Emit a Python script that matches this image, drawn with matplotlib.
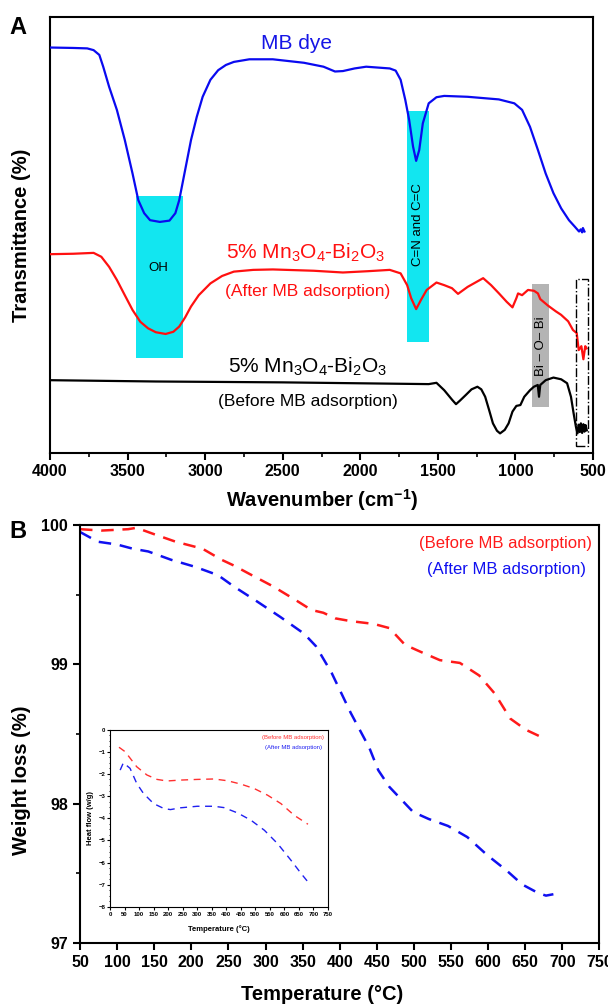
import matplotlib
matplotlib.use("Agg")
import matplotlib.pyplot as plt
from matplotlib.patches import Rectangle

plt.rcParams['font.family'] = ['Liberation Sans', 'DejaVu Sans']
plt.rcParams['mathtext.fontset'] = 'custom'
plt.rcParams['mathtext.rm'] = 'Liberation Sans'
plt.rcParams['mathtext.it'] = 'Liberation Sans:italic'
plt.rcParams['mathtext.bf'] = 'Liberation Sans:bold'
plt.rcParams['mathtext.default'] = 'regular'

# ---- Panel A: FTIR spectra (transmittance, arbitrary offset units) ----
mb_wn = [4000, 3850, 3760, 3719, 3682, 3657, 3619, 3569, 3518, 3468, 3431, 3393, 3355,
         3292, 3230, 3192, 3167, 3129, 3091, 3054, 3016, 2966, 2916, 2866, 2815,
         2715, 2564, 2363, 2237, 2163, 2112, 2037, 1962, 1810, 1772, 1740, 1710,
         1685, 1660, 1640, 1620, 1597, 1559, 1509, 1459, 1308, 1107, 1007, 957,
         906, 855, 805, 755, 705, 655, 617, 590, 579, 570, 565, 555]
mb_t = [93.0, 92.9, 92.8, 92.4, 91.3, 88.6, 84.0, 78.7, 71.8, 64.1, 58.0, 55.0, 53.4,
        53.0, 53.3, 55.0, 58.0, 64.9, 71.8, 77.1, 81.7, 85.6, 87.8, 89.0, 89.7,
        90.3, 90.3, 89.5, 88.6, 87.5, 87.6, 88.2, 88.6, 88.2, 87.7, 85.6, 81.0,
        76.4, 70.3, 67.0, 69.5, 75.6, 80.2, 81.6, 81.9, 81.7, 81.1, 80.2, 78.7,
        74.8, 69.5, 64.1, 59.6, 56.1, 53.4, 51.9, 50.8, 51.3, 50.6, 51.6, 50.8]

after_wn = [4000, 3850, 3719, 3669, 3619, 3569, 3518, 3468, 3418, 3368, 3318, 3255,
            3205, 3167, 3129, 3091, 3041, 2966, 2891, 2815, 2690, 2564, 2300, 2112,
            1950, 1810, 1740, 1698, 1672, 1640, 1609, 1572, 1509, 1459, 1409, 1370,
            1308, 1208, 1157, 1106, 1057, 1019, 994, 983, 957, 919, 880, 855, 840,
            790, 740, 706, 660, 629, 605, 592, 575, 562, 550, 542]
after_t = [45.6, 45.7, 45.9, 45.0, 42.7, 39.7, 36.2, 32.8, 30.1, 28.6, 27.7, 27.3,
           27.8, 29.0, 31.1, 33.6, 36.2, 38.9, 40.6, 41.6, 42.0, 42.1, 41.8, 41.4,
           41.7, 42.0, 41.2, 38.5, 35.5, 33.0, 35.1, 37.4, 39.1, 38.5, 37.8, 36.5,
           38.1, 40.1, 38.5, 36.6, 34.7, 33.4, 35.5, 36.6, 36.2, 37.4, 37.2, 36.6,
           35.3, 33.8, 32.5, 31.7, 30.2, 28.2, 27.5, 23.6, 24.5, 21.5, 24.5, 24.0]

before_wn = [4000, 3317, 2500, 1559, 1509, 1459, 1408, 1383, 1358, 1320, 1283, 1245,
             1220, 1195, 1170, 1145, 1119, 1099, 1069, 1044, 1019, 994, 968, 943,
             906, 881, 856, 848, 840, 805, 755, 705, 667, 642, 625, 610, 600, 592,
             585, 578, 570, 562, 555, 548, 540]
before_t = [16.7, 16.4, 16.2, 15.8, 16.1, 14.4, 12.2, 11.2, 12.0, 13.3, 14.6, 15.2,
            14.6, 12.9, 9.9, 6.8, 5.1, 4.5, 5.3, 6.8, 9.5, 10.8, 11.0, 12.9,
            14.4, 15.2, 15.6, 12.9, 15.6, 16.7, 17.3, 16.9, 16.0, 12.9, 9.1, 6.0,
            4.5, 6.5, 4.8, 6.8, 4.6, 6.6, 4.9, 6.4, 5.2]

# ---- Panel B: TGA (weight %) ----
tga_before_T = [50, 79, 115, 126, 152, 179, 215, 241, 257, 278, 310, 341, 362, 378,
                394, 415, 446, 467, 488, 509, 535, 562, 588, 609, 630, 651, 675]
tga_before_w = [99.97, 99.96, 99.97, 99.98, 99.93, 99.88, 99.83, 99.75, 99.71, 99.65,
                99.56, 99.46, 99.39, 99.37, 99.33, 99.31, 99.29, 99.26, 99.14, 99.09,
                99.03, 99.01, 98.92, 98.79, 98.61, 98.53, 98.47]
tga_after_T = [50, 74, 100, 121, 142, 173, 205, 236, 257, 289, 320, 352, 368, 389,
               415, 440, 452, 467, 483, 499, 520, 546, 572, 599, 625, 646, 667, 678, 688]
tga_after_w = [99.95, 99.88, 99.86, 99.83, 99.81, 99.75, 99.70, 99.64, 99.56, 99.45,
               99.34, 99.22, 99.13, 98.94, 98.65, 98.40, 98.24, 98.12, 98.03, 97.94,
               97.89, 97.84, 97.76, 97.63, 97.52, 97.42, 97.36, 97.34, 97.35]

# ---- Inset: heat flow ----
hf_before_T = [31, 52, 92, 127, 162, 196, 242, 300, 358, 404, 450, 496, 542, 588, 634, 681]
hf_before = [-0.8, -1.0, -1.68, -2.05, -2.25, -2.32, -2.28, -2.25, -2.23, -2.31,
             -2.46, -2.66, -2.96, -3.34, -3.87, -4.27]
hf_after_T = [35, 46, 69, 92, 115, 150, 185, 208, 242, 300, 358, 392, 439, 485,
              531, 577, 623, 658, 686]
hf_after = [-1.83, -1.5, -1.75, -2.43, -2.88, -3.34, -3.56, -3.61, -3.53, -3.46,
            -3.46, -3.52, -3.76, -4.09, -4.54, -5.15, -5.9, -6.5, -6.95]

W, H = 608, 1007
fig = plt.figure(figsize=(W / 100, H / 100), dpi=100)


def box(l, t, r, b):
    return [l / W, 1 - b / H, (r - l) / W, (b - t) / H]


# ================= Panel A =================
ax1 = fig.add_axes(box(50, 17, 593, 453))
ax1.add_patch(Rectangle((3448, 21.7), 3141 - 3448, 58.9 - 21.7, color='#12E6F0', lw=0, zorder=1))
ax1.add_patch(Rectangle((1700, 25.5), 1559 - 1700, 78.5 - 25.5, color='#12E6F0', lw=0, zorder=1))
ax1.add_patch(Rectangle((891, 10.6), 786 - 891, 38.7 - 10.6, color='#B4B4B4', lw=0, zorder=1))
ax1.add_patch(Rectangle((610, 1.6), 534 - 610, 39.8 - 1.6, fill=False, ec='black', lw=1.0,
                        ls='-.', zorder=4))

ax1.plot(mb_wn, mb_t, color='#0A0AF0', lw=1.6, zorder=3)
ax1.plot(after_wn, after_t, color='#FF1010', lw=1.6, zorder=3)
ax1.plot(before_wn, before_t, color='black', lw=1.6, zorder=3)

ax1.text(2414, 94.0, 'MB dye', color='#1515E6', fontsize=15, ha='center', va='center')
ax1.text(2350, 45.8, '5% Mn$_3$O$_4$-Bi$_2$O$_3$', color='#FF1010', fontsize=15,
         ha='center', va='center')
ax1.text(2337, 37.0, '(After MB adsorption)', color='#FF1010', fontsize=12.5,
         ha='center', va='center')
ax1.text(2337, 19.8, '5% Mn$_3$O$_4$-Bi$_2$O$_3$', color='black', fontsize=15,
         ha='center', va='center')
ax1.text(2337, 11.8, '(Before MB adsorption)', color='black', fontsize=12.5,
         ha='center', va='center')
ax1.text(3304, 42.4, 'OH', fontsize=9.5, ha='center', va='center')
ax1.text(1628, 52.4, 'C=N and C=C', fontsize=9.5, ha='center', va='center', rotation=90)
ax1.text(838, 24.4, 'Bi – O– Bi', fontsize=9.5, ha='center', va='center', rotation=90)

ax1.set_xlim(4000, 500)
ax1.set_ylim(0, 100)
ax1.set_xticks([4000, 3500, 3000, 2500, 2000, 1500, 1000, 500])
ax1.set_xticks(range(750, 4000, 500), minor=True)
ax1.set_yticks([])
ax1.tick_params(axis='x', which='major', direction='out', length=5, width=1.5,
                labelsize=11.5, pad=3)
ax1.tick_params(axis='x', which='minor', direction='out', length=3, width=1.2)
for lab in ax1.get_xticklabels():
    lab.set_fontweight('bold')
for s in ax1.spines.values():
    s.set_linewidth(1.5)

# ================= Panel B =================
ax2 = fig.add_axes(box(80, 525, 599.4, 943))
ax2.plot(tga_before_T, tga_before_w, color='#FF1A1A', lw=1.8, ls=(0, (5, 3.5)))
ax2.plot(tga_after_T, tga_after_w, color='#1010F0', lw=1.8, ls=(0, (5, 3.5)))
ax2.text(740, 99.87, '(Before MB adsorption)', color='#FF1A1A', fontsize=12,
         ha='right', va='center')
ax2.text(732, 99.68, '(After MB adsorption)', color='#1010F0', fontsize=12,
         ha='right', va='center')
ax2.set_xlim(50, 750)
ax2.set_ylim(97, 100)
ax2.set_xticks(range(50, 751, 50))
ax2.set_yticks([97, 98, 99, 100])
ax2.set_yticks([97.5, 98.5, 99.5], minor=True)
ax2.tick_params(axis='both', which='major', direction='out', length=5, width=1.5,
                labelsize=11.5)
ax2.tick_params(axis='y', which='minor', direction='out', length=3, width=1.2)
for lab in ax2.get_xticklabels() + ax2.get_yticklabels():
    lab.set_fontweight('bold')
for s in ax2.spines.values():
    s.set_linewidth(1.5)

# ================= Inset =================
ax3 = fig.add_axes(box(110, 729.5, 328, 907))
ax3.plot(hf_before_T, hf_before, color='#FF3030', lw=1.0, ls=(0, (5, 4)))
ax3.plot(hf_after_T, hf_after, color='#2020F0', lw=1.0, ls=(0, (5, 4)))
ax3.text(735, -0.35, '(Before MB adsorption)', color='#FF3030', fontsize=4.3,
         ha='right', va='center')
ax3.text(728, -0.82, '(After MB adsorption)', color='#2020F0', fontsize=4.3,
         ha='right', va='center')
ax3.set_xlim(0, 750)
ax3.set_ylim(-8, 0)
ax3.set_xticks(range(0, 751, 50))
ax3.set_yticks(range(-8, 1))
ax3.set_yticks([v / 4 for v in range(-32, 1)], minor=True)
ax3.tick_params(axis='both', which='major', direction='out', length=2, width=0.8,
                labelsize=4.3, pad=1.5)
ax3.tick_params(axis='y', which='minor', direction='out', length=1, width=0.6)
for lab in ax3.get_xticklabels() + ax3.get_yticklabels():
    lab.set_fontweight('bold')
ax3.set_xlabel('Temperature (°C)', fontsize=5.5, fontweight='bold', labelpad=6)
ax3.set_ylabel('Heat flow (w/g)', fontsize=5.5, fontweight='bold', labelpad=3)
for s in ax3.spines.values():
    s.set_linewidth(0.8)

# ================= Labels =================
fig.text(18 / W, 1 - 28 / H, 'A', fontsize=17, fontweight='bold', ha='center', va='center')
fig.text(18 / W, 1 - 532 / H, 'B', fontsize=17, fontweight='bold', ha='center', va='center')
fig.text(22 / W, 1 - 235 / H, 'Transmittance (%)', fontsize=14.5, fontweight='bold',
         rotation=90, ha='center', va='center')
fig.text(322 / W, 1 - 500 / H, r'Wavenumber (cm$\mathbf{^{-1}}$)', fontsize=14.5,
         fontweight='bold', ha='center', va='center')
fig.text(22 / W, 1 - 780 / H, 'Weight loss (%)', fontsize=14.5, fontweight='bold',
         rotation=90, ha='center', va='center')
fig.text(322 / W, 1 - 995 / H, 'Temperature (°C)', fontsize=14.5, fontweight='bold',
         ha='center', va='center')

fig.savefig('out.png', dpi=100)
